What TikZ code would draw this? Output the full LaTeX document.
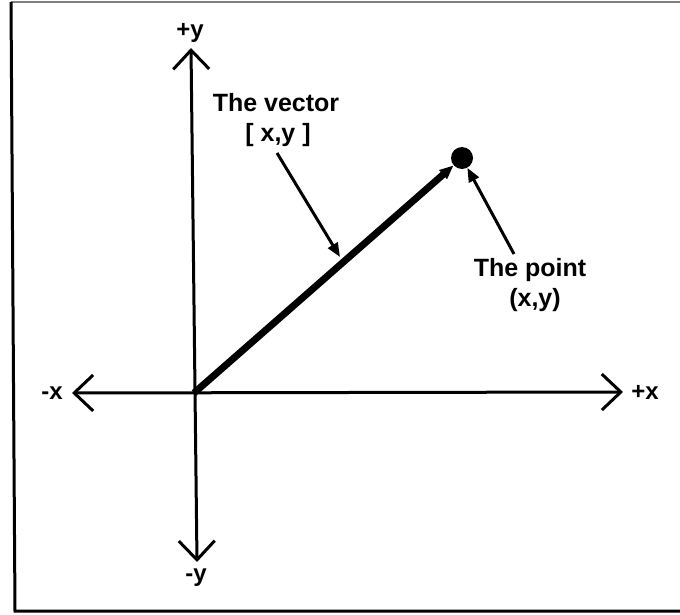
\documentclass[tikz,border=0pt]{standalone}
\usepackage{fontspec}
\setmainfont{Liberation Sans}
\usetikzlibrary{arrows.meta}
\begin{document}
\begin{tikzpicture}[x=1pt,y=-1pt,
  barb/.tip={Straight Barb[length=19pt,width=36pt,line width=3pt]},
  axis/.style={line width=3pt, barb-barb},
  lbl/.style={font=\fontsize{25}{31}\selectfont\bfseries, inner sep=0pt, anchor=base},
  axlbl/.style={font=\fontsize{24}{28}\selectfont\bfseries, inner sep=0pt},
  pointer/.style={line width=3pt, -{Triangle[length=14pt,width=11pt]}},
  vec/.style={line width=7pt, -{Triangle[length=14pt,width=11pt]}},
  frame/.style={line width=3pt},
  dot/.style={circle, fill=black, minimum size=22pt, inner sep=0pt}]
\useasboundingbox (0,0) rectangle (680,615);
% frame
\draw[gray, line width=1.5pt] (11,2) -- (680,2);
\draw[frame] (11,2) -- (15,611) -- (680,611);
% axes
\coordinate (O) at (194,393);
\coordinate (Ytop) at (191,48);
\coordinate (Ybot) at (197,562);
\coordinate (Xl) at (72,393);
\coordinate (Xr) at (623,392);
\draw[axis] (Ybot) -- (Ytop);
\draw[axis] (Xl) -- (Xr);
\node[axlbl] (ly1) at (190,33) {+y};
\node[axlbl] (ly2) at (196,578) {-y};
\node[axlbl] (lx1) at (52,393) {-x};
\node[axlbl] (lx2) at (645,392) {+x};
% point and vector
\node[dot] (P) at (462,158) {};
\draw[vec] (O) -- (P);
% labels
\node[lbl] (v1) at (276,112) {The vector};
\node[lbl] (v2) at (278,142) {[ x,y ]};
\node[lbl] (p1) at (530,276) {The point};
\node[lbl] (p2) at (535,306) {(x,y)};
\coordinate (vs) at (277,153);
\coordinate (vt) at (340,257);
\draw[pointer] (vs) -- (vt);
\coordinate (ps) at (514,254);
\draw[pointer] (ps) -- (P);
\end{tikzpicture}
\end{document}
